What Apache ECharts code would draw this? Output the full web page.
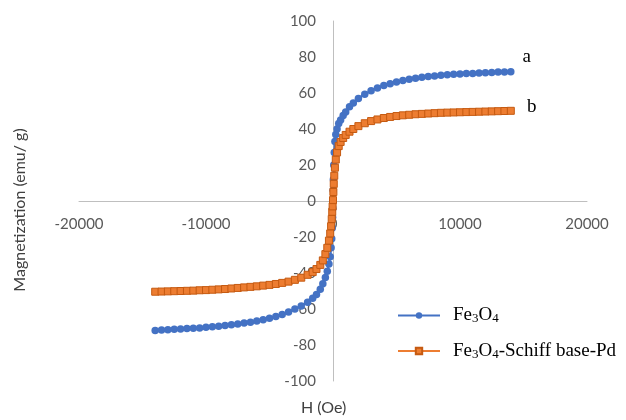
<!DOCTYPE html>
<html>
<head>
<meta charset="utf-8">
<script src="https://cdn.jsdelivr.net/npm/echarts@6/dist/echarts.min.js"></script>
<style>html,body{margin:0;padding:0;background:#fff;}#c{width:626px;height:420px;}</style>
</head>
<body>
<div id="c"></div>
<script>
// Fe3O4 (curve a)
var fieldA = [-14000,-13500,-13000,-12500,-12000,-11500,-11000,-10500,-10000,-9500,-9000,-8500,-8000,-7500,-7000,-6500,-6000,-5500,-5000,-4500,-4000,-3500,-3000,-2500,-2000,-1600,-1300,-1000,-800,-600,-450,-320,-220,-150,-100,-60,-30,-10,0,10,30,60,100,150,220,320,450,600,800,1000,1300,1600,2000,2500,3000,3500,4000,4500,5000,5500,6000,6500,7000,7500,8000,8500,9000,9500,10000,10500,11000,11500,12000,12500,13000,13500,14000];
var magA = [-71.9,-71.7,-71.5,-71.3,-71.1,-70.9,-70.7,-70.5,-70.2,-69.9,-69.6,-69.2,-68.8,-68.3,-67.8,-67.3,-66.7,-66,-65.2,-64.2,-63,-61.6,-60,-58.3,-56.3,-54,-52,-49,-46,-42.5,-39,-35,-31,-26,-21,-15,-9,-4,0,6,12,20,27,33,37,40,43,45,47.5,49.5,52.3,54.5,57,59.3,61.2,62.8,64.1,65.2,66.1,66.9,67.6,68.2,68.7,69.1,69.5,69.8,70.1,70.4,70.6,70.8,70.9,71.1,71.3,71.4,71.6,71.7,71.8];
// Fe3O4-Schiff base-Pd (curve b)
var fieldB = [-14000,-13500,-13000,-12500,-12000,-11500,-11000,-10500,-10000,-9500,-9000,-8500,-8000,-7500,-7000,-6500,-6000,-5500,-5000,-4500,-4000,-3500,-3000,-2500,-2000,-1600,-1300,-1000,-800,-600,-450,-320,-220,-150,-100,-60,-30,0,30,60,100,150,220,320,450,600,800,1000,1300,1600,2000,2500,3000,3500,4000,4500,5000,5500,6000,6500,7000,7500,8000,8500,9000,9500,10000,10500,11000,11500,12000,12500,13000,13500,14000];
var magB = [-50.4,-50.3,-50.2,-50.1,-50,-49.9,-49.8,-49.6,-49.5,-49.3,-49.1,-48.9,-48.6,-48.3,-48,-47.7,-47.4,-47,-46.6,-46.1,-45.5,-44.8,-43.8,-42.6,-41,-39.5,-37.8,-35.5,-33,-29.5,-26,-22,-18,-14,-10,-6,-3,0.5,5,9.5,14,18.5,23,27,30.5,32.8,35,36.7,38.5,40,41.6,43.2,44.4,45.3,46.1,46.7,47.2,47.6,47.9,48.2,48.4,48.6,48.8,49,49.1,49.2,49.3,49.4,49.5,49.6,49.7,49.8,49.9,50,50.1];
var seriesNames = ['Fe3O4', 'Fe3O4-Schiff base-Pd'];
var curveLabels = ['a', 'b'];
var xTicks = {min: -20000, max: 20000, interval: 10000};
var yTicks = {min: -100, max: 100, interval: 20};

function build(fx, my, lab, off) {
  return fx.map(function (h, i) {
    var item = {value: [h, my[i]]};
    if (i === fx.length - 1) {
      item.label = {show: true, formatter: lab, position: 'inside', offset: off,
        fontFamily: 'Liberation Serif', fontSize: 19, color: '#000'};
    }
    return item;
  });
}

var chart = echarts.init(document.getElementById('c'), null, {renderer: 'canvas'});
var axisFont = {fontFamily: 'Lato', fontSize: 15, color: '#595959'};
var gridH = 360, gridW = 508;
chart.setOption({
  animation: false,
  backgroundColor: '#fff',
  grid: {left: 79, right: 39, top: 21, bottom: 39, containLabel: false},
  xAxis: {
    type: 'value', min: xTicks.min, max: xTicks.max, interval: xTicks.interval,
    position: 'bottom', offset: -gridH / 2,
    axisLine: {show: true, onZero: false, lineStyle: {color: '#bfbfbf', width: 1}},
    axisTick: {show: false}, splitLine: {show: false},
    axisLabel: Object.assign({margin: 16, formatter: function (v) { return String(v); }}, axisFont)
  },
  yAxis: {
    type: 'value', min: yTicks.min, max: yTicks.max, interval: yTicks.interval,
    position: 'left', offset: -gridW / 2,
    axisLine: {show: true, onZero: false, lineStyle: {color: '#bfbfbf', width: 1}},
    axisTick: {show: false}, splitLine: {show: false},
    axisLabel: Object.assign({margin: 17, formatter: function (v) { return String(v); }}, axisFont)
  },
  legend: {
    orient: 'vertical', left: 397, top: 306, padding: 0,
    itemWidth: 42, itemHeight: 8, itemGap: 16,
    formatter: function (n) { return n.replace(/(\d)/g, '{s|$1}'); },
    textStyle: {fontFamily: 'Liberation Serif', fontSize: 19, color: '#000', padding: [0, 0, 0, 8],
      rich: {s: {fontFamily: 'Liberation Serif', fontSize: 13, color: '#000', verticalAlign: 'bottom', padding: [7, 0, 0, 0]}}},
    data: seriesNames
  },
  graphic: [
    {type: 'text', left: 12, top: 'middle', rotation: Math.PI / 2,
      style: {text: 'Magnetization (emu/ g)', fontFamily: 'Lato', fontSize: 16, fill: '#404040'}},
    {type: 'text', left: 301, top: 400,
      style: {text: 'H (Oe)', fontFamily: 'Lato', fontSize: 16, fill: '#404040'}}
  ],
  series: [
    {name: seriesNames[0], type: 'line', data: build(fieldA, magA, curveLabels[0], [16, -15]),
      symbol: 'circle', symbolSize: 7.5, showAllSymbol: true,
      lineStyle: {color: '#4472C4', width: 2.25}, itemStyle: {color: '#4472C4'}},
    {name: seriesNames[1], type: 'line', data: build(fieldB, magB, curveLabels[1], [21, -4]),
      symbol: 'rect', symbolSize: 7, showAllSymbol: true,
      lineStyle: {color: '#ED7D31', width: 2.25}, itemStyle: {color: '#ED7D31', borderColor: '#C55A11', borderWidth: 1}}
  ]
});
</script>
</body>
</html>
